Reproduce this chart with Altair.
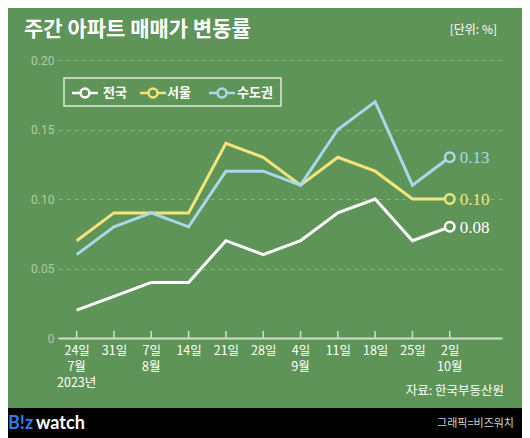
import altair as alt
import pandas as pd

# ---- data ----
weeks = list(range(11))
day_labels = ["24일", "31일", "7일", "14일", "21일", "28일", "4일", "11일", "18일", "25일", "2일"]
month_idx = [0, 2, 6, 10]
month_labels = ["7월", "8월", "9월", "10월"]
year_idx = [0]
year_labels = ["2023년"]
nation = [0.02, 0.03, 0.04, 0.04, 0.07, 0.06, 0.07, 0.09, 0.10, 0.07, 0.08]
seoul = [0.07, 0.09, 0.09, 0.09, 0.14, 0.13, 0.11, 0.13, 0.12, 0.10, 0.10]
capital = [0.06, 0.08, 0.09, 0.08, 0.12, 0.12, 0.11, 0.15, 0.17, 0.11, 0.13]
series_names = ["전국", "서울", "수도권"]
series_colors = ["#ffffff", "#f3e47c", "#a9d8ea"]
end_labels = ["0.08", "0.10", "0.13"]
y_ticks = [0, 0.05, 0.10, 0.15, 0.20]

rows = []
for name, vals in zip(series_names, [nation, seoul, capital]):
    for i, v in zip(weeks, vals):
        rows.append({"series": name, "idx": i, "value": v})
df = pd.DataFrame(rows)
end_df = pd.DataFrame({
    "series": series_names,
    "idx": [weeks[-1]] * 3,
    "value": [nation[-1], seoul[-1], capital[-1]],
    "label": end_labels,
})
tick_df = pd.DataFrame({"idx": weeks})
month_df = pd.DataFrame({"idx": month_idx, "label": month_labels})
year_df = pd.DataFrame({"idx": year_idx, "label": year_labels})
one = pd.DataFrame({"a": [0]})

BG = "#5f9459"
KR = "Noto Sans CJK KR"
W, H = 444, 278
XFS = 12.5

xscale = alt.Scale(domain=[-0.5, 11.4], nice=False, zero=False)
yscale = alt.Scale(domain=[0, 0.2], nice=False)
cscale = alt.Scale(domain=series_names, range=series_colors)

label_expr = "[" + ",".join("'%s'" % s for s in day_labels) + "][datum.value]"

xaxis = alt.Axis(values=weeks, labelExpr=label_expr, domain=True, domainColor="#cfe0c9",
                 domainWidth=2, ticks=False, grid=False, labelColor="#ffffff",
                 labelFontSize=XFS, labelFont=KR, labelPadding=6,
                 labelBaseline="top", title=None)
yaxis = alt.Axis(values=y_ticks,
                 labelExpr="datum.value == 0 ? '0' : format(datum.value, '.2f')",
                 grid=True, gridDash=[4, 4], gridColor="#86b37e", gridWidth=1,
                 domain=False, ticks=False, labelColor="#a9cfa2", labelFontSize=12,
                 labelFont="Roboto", labelPadding=4, title=None)

lines = alt.Chart(df).mark_line(strokeWidth=3).encode(
    x=alt.X("idx:Q", scale=xscale, axis=xaxis),
    y=alt.Y("value:Q", scale=yscale, axis=yaxis),
    color=alt.Color("series:N", scale=cscale, legend=None),
    detail="series:N",
)

ticks = alt.Chart(tick_df).mark_rule(color="#cfe0c9", strokeWidth=1.5).encode(
    x=alt.X("idx:Q", scale=xscale),
    y=alt.value(H - 7), y2=alt.value(H),
)

months = alt.Chart(month_df).mark_text(align="center", baseline="top", font=KR,
                                       fontSize=XFS, color="#ffffff").encode(
    x=alt.X("idx:Q", scale=xscale), y=alt.value(H + 23), text="label:N")
years = alt.Chart(year_df).mark_text(align="center", baseline="top", font=KR,
                                     fontSize=XFS, color="#ffffff").encode(
    x=alt.X("idx:Q", scale=xscale), y=alt.value(H + 39), text="label:N")

points = alt.Chart(end_df).mark_point(filled=True, fill=BG, size=90, strokeWidth=2.5,
                                      shape="circle", opacity=1).encode(
    x=alt.X("idx:Q", scale=xscale),
    y=alt.Y("value:Q", scale=yscale),
    stroke=alt.Stroke("series:N", scale=cscale, legend=None),
)

labels = alt.Chart(end_df).mark_text(align="left", baseline="middle", dx=10, dy=1,
                                     fontSize=17, font="Liberation Serif").encode(
    x=alt.X("idx:Q", scale=xscale),
    y=alt.Y("value:Q", scale=yscale),
    color=alt.Color("series:N", scale=cscale, legend=None),
    text="label:N",
)


def txt(text, x, y, **kw):
    return alt.Chart(one).mark_text(text=text, **kw).encode(x=alt.value(x), y=alt.value(y))


# ---- manual legend ----
legend_layers = [
    alt.Chart(one).mark_rect(fill=BG, stroke="#dcebd6", strokeWidth=1.5).encode(
        x=alt.value(6), x2=alt.value(223), y=alt.value(18), y2=alt.value(46))
]
LY = 33
sym_x0 = [14, 82, 151]
lab_x0 = [45, 109, 179]
for name, color, sx, lx in zip(series_names, series_colors, sym_x0, lab_x0):
    legend_layers.append(alt.Chart(one).mark_rule(color=color, strokeWidth=2.5).encode(
        x=alt.value(sx), x2=alt.value(sx + 26), y=alt.value(LY)))
    legend_layers.append(alt.Chart(one).mark_point(
        filled=True, fill=BG, stroke=color, strokeWidth=2.5, size=80, shape="circle",
        opacity=1).encode(x=alt.value(sx + 13), y=alt.value(LY)))
    legend_layers.append(txt(name, lx, LY, align="left", baseline="middle", font=KR,
                             fontSize=13, fontWeight="bold", color="#ffffff"))

bar = alt.Chart(one).mark_rect(color="#000000").encode(
    x=alt.value(-60), x2=alt.value(480), y=alt.value(348), y2=alt.value(380))

title = txt("주간 아파트 매매가 변동률", -34, -30, align="left", baseline="middle",
            font=KR, fontSize=21, fontWeight="bold", color="#ffffff")
unit = txt("[단위: %]", 439, -30, align="right", baseline="middle", font=KR,
           fontSize=12, color="#ffffff")
source = txt("자료: 한국부동산원", 446, 331, align="right", baseline="middle", font=KR,
             fontSize=12.5, color="#ffffff")
logo1 = txt("B!z", -50, 364, align="left", baseline="middle", font="Lato",
            fontSize=18, fontWeight="bold", color="#2f7fe6")
logo2 = txt("watch", -22, 364, align="left", baseline="middle", font="Lato",
            fontSize=18, fontWeight="bold", color="#ffffff")
credit = txt("그래픽=비즈워치", 456, 364, align="right", baseline="middle", font=KR,
             fontSize=11, color="#d0d0d0")

chart = alt.layer(ticks, lines, points, labels, months, years, *legend_layers, bar, title,
                  unit, source, logo1, logo2, credit).properties(
    width=W, height=H,
    autosize=alt.AutoSizeParams(type="none"),
    padding={"left": 50, "top": 52, "right": 20, "bottom": 100},
    background=BG,
).configure_view(stroke=None)

chart.save("out.html", embed_options={"renderer": "svg", "actions": False})
